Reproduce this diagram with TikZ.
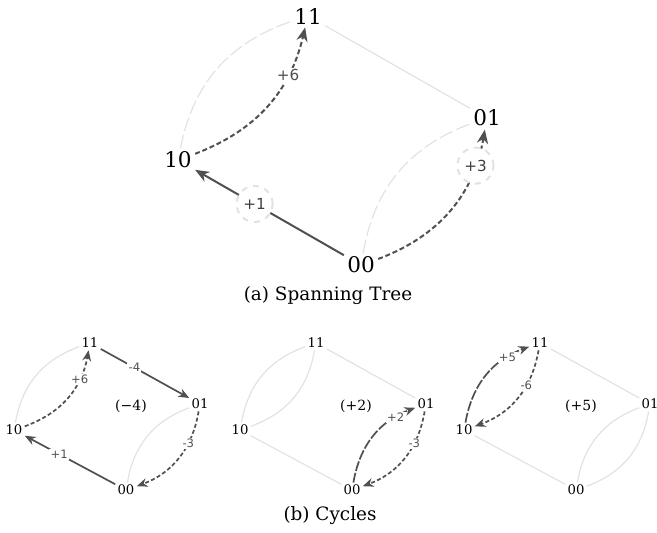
\documentclass[tikz,border=0pt]{standalone}
\usepackage{fontspec}
\setmainfont{DejaVu Serif}
\newfontfamily\weightfont{DejaVu Sans}
\usepackage{tikz}
\usetikzlibrary{arrows.meta}
\definecolor{flowgray}{HTML}{505050}
\definecolor{treegray}{HTML}{E2E2E2}
\tikzstyle{bigvertex} = [inner sep=1.5pt, text=black, font=\fontsize{10.8}{12}\selectfont]
\tikzstyle{smallvertex} = [inner sep=1pt, text=black, font=\fontsize{6.6}{8}\selectfont]
\tikzstyle{faint} = [treegray, line width=0.6pt]
\tikzstyle{faintdash} = [faint, dash pattern=on 7pt off 2pt]
\tikzstyle{flow} = [flowgray, line width=1pt, -{Stealth[length=7pt,width=5.6pt]}]
\tikzstyle{flowdash} = [flow, dash pattern=on 2.5pt off 1.4pt]
\tikzstyle{smallflow} = [flowgray, line width=0.85pt, -{Stealth[length=5.4pt,width=4.4pt]}]
\tikzstyle{smalldash} = [smallflow, dash pattern=on 2pt off 1.2pt]
\tikzstyle{smalllong} = [smallflow, dash pattern=on 5pt off 1pt]
\tikzstyle{weight} = [fill=white, inner sep=1pt, text=flowgray, font=\weightfont\fontsize{7.6}{8}\selectfont]
\tikzstyle{ringed} = [circle, draw=treegray, dashed, minimum size=18pt, inner sep=0pt, text=black!75]
\tikzstyle{smallweight} = [fill=white, inner sep=0.6pt, text=flowgray, font=\weightfont\fontsize{5.8}{6}\selectfont]
\tikzstyle{cyclesum} = [text=black, font=\fontsize{7}{8}\selectfont]
\tikzstyle{caption} = [text=black, font=\fontsize{9.2}{10}\selectfont]

\begin{document}
\begin{tikzpicture}[x=0.5pt, y=0.5pt]
\useasboundingbox (0,0) rectangle (657,-533);

% (a) spanning tree
\node[bigvertex] (t11) at (308,-16) {11};
\node[bigvertex] (t10) at (178,-160) {10};
\node[bigvertex] (t01) at (487,-118) {01};
\node[bigvertex] (t00) at (361,-265) {00};

\draw[faintdash] (t10) to[bend left=30] (t11);
\draw[faint] (t11) -- (t01);
\draw[faintdash] (t00) to[bend left=30] (t01);
\draw[flowdash] (t10) to[bend right=28] node[pos=0.72, weight] (w6) {+6} (t11);
\draw[flowdash] (t00) to[bend right=30] node[pos=0.8, weight, ringed] (w3) {+3} (t01);
\draw[flow] (t00) -- node[pos=0.6, weight, ringed] (w1) {+1} (t10);

\node[caption] (capa) at (328,-296) {(a) Spanning Tree};

% (b) cycles, first
\node[smallvertex] (a11) at (90,-343) {11};
\node[smallvertex] (a10) at (14,-430) {10};
\node[smallvertex] (a01) at (200,-404) {01};
\node[smallvertex] (a00) at (126,-490) {00};
\node[cyclesum] (sa) at (131,-406) {(−4)};

\draw[faint] (a10) to[bend left=30] (a11);
\draw[faint] (a00) to[bend left=30] (a01);
\draw[smalldash] (a10) to[bend right=30] node[pos=0.72, smallweight] (wa6) {+6} (a11);
\draw[smallflow] (a11) -- node[pos=0.38, smallweight] (wa4) {-4} (a01);
\draw[smalldash] (a01) to[bend left=30] node[pos=0.32, smallweight] (wa3) {-3} (a00);
\draw[smallflow] (a00) -- node[pos=0.62, smallweight] (wa1) {+1} (a10);

% second
\node[smallvertex] (b11) at (316,-343) {11};
\node[smallvertex] (b10) at (240,-430) {10};
\node[smallvertex] (b01) at (426,-404) {01};
\node[smallvertex] (b00) at (352,-490) {00};
\node[cyclesum] (sb) at (356,-406) {(+2)};

\draw[faint] (b10) to[bend left=30] (b11);
\draw[faint] (b10) to[bend right=30] (b11);
\draw[faint] (b11) -- (b01);
\draw[faint] (b10) -- (b00);
\draw[smalllong] (b00) to[bend left=30] node[pos=0.8, smallweight] (wb2) {+2} (b01);
\draw[smalldash] (b01) to[bend left=30] node[pos=0.32, smallweight] (wb3) {-3} (b00);

% third
\node[smallvertex] (c11) at (540,-343) {11};
\node[smallvertex] (c10) at (464,-430) {10};
\node[smallvertex] (c01) at (650,-404) {01};
\node[smallvertex] (c00) at (576,-490) {00};
\node[cyclesum] (sc) at (581,-406) {(+5)};

\draw[faint] (c11) -- (c01);
\draw[faint] (c10) -- (c00);
\draw[faint] (c00) to[bend left=30] (c01);
\draw[faint] (c00) to[bend right=30] (c01);
\draw[smalllong] (c10) to[bend left=30] node[pos=0.78, smallweight] (wc5) {+5} (c11);
\draw[smalldash] (c11) to[bend left=30] node[pos=0.35, smallweight] (wc6) {-6} (c10);

\node[caption] (capb) at (330,-516) {(b) Cycles};
\end{tikzpicture}
\end{document}
